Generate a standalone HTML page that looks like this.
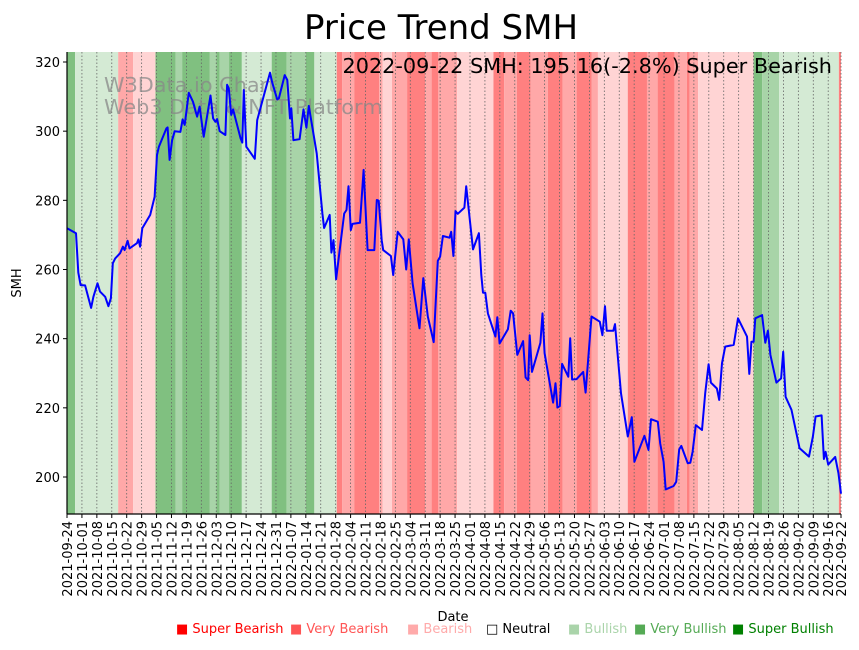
<!DOCTYPE html>
<html><head><meta charset="utf-8">
<style>
body{margin:0;background:#fff;width:859px;height:646px;overflow:hidden;font-family:"DejaVu Sans","Liberation Sans",sans-serif}
</style></head>
<body>
<svg id="chart" width="859" height="646" viewBox="0 0 859 646" xmlns="http://www.w3.org/2000/svg" font-family="DejaVu Sans, Liberation Sans, sans-serif">
<g id="bands"></g>
<g id="grid"></g>
<g id="wm">
<text x="104" y="92" font-size="20.8" fill="#888" fill-opacity="0.75">W3Data.io Chart</text>
<text x="104" y="114" font-size="20.8" fill="#888" fill-opacity="0.75">Web3 Data &amp; NFT Platform</text>
</g>
<path id="line" fill="none" stroke="#0000ff" stroke-width="2" stroke-linejoin="round"></path>
<g id="axes"></g>
<text x="441" y="39" font-size="34" text-anchor="middle" fill="#000">Price Trend SMH</text>
<text x="832" y="73" font-size="20.8" text-anchor="end" fill="#000">2022-09-22 SMH: 195.16(-2.8%) Super Bearish</text>
<text x="453" y="621" font-size="13" text-anchor="middle">Date</text>
<text transform="translate(21,283) rotate(-90)" font-size="13" text-anchor="middle">SMH</text>
<g id="legend"></g>
</svg>
<script>
const days=[0,4.2,5.3,6.4,8.5,11.3,12.4,14.3,15.5,17.9,19.4,20.6,21.5,22.6,24.9,26.2,27,28.4,29.3,32.8,33.5,34.3,35.3,39,41.1,42.2,43.1,46.6,47.2,48.1,49.3,50.5,53.2,54.2,55.2,57.1,59.1,61,62.2,64.1,67.3,68.5,69.6,70.4,71.6,74.3,75.1,75.9,77,77.9,79,81.4,82.2,82.9,84.1,88.1,89.2,95.2,96.3,98.6,99.4,102.1,103.3,104.6,105.2,106.2,109.1,110.9,112.3,113.4,117.1,119.8,120.6,123.2,124,125,126.2,130,131.1,132,133.1,133.9,137.4,139.1,141,144.1,145.3,146.2,147.6,148.3,151.9,153,155.1,157.7,159.1,160.3,162.1,165.3,167.1,169.2,172,173.9,175,176.3,179.4,180.2,181.2,182.2,183.3,186.4,187.2,190.4,193.2,194.3,195.1,196.2,197.4,200.9,201.8,202.9,206.8,208.1,209.2,211.2,213.9,215.1,216.3,217,218.1,222,223,224,228,229.1,230,231.1,232.2,235.1,236,236.9,239,242.1,243.2,246,249.9,251.1,252.3,253.1,256.2,257,259.8,263,264.9,266.1,270.8,272.7,273.9,277.1,278.2,279.8,280.8,284.5,285.7,287.1,288.1,291.1,292.3,293.4,294.9,297.8,299.3,300.9,302,304.8,305.9,307.2,308.7,312.7,314.7,318.9,320,321,322,322.8,326,327.5,328.7,329.9,332.7,334.9,335.9,337,339.8,343.6,348,349.8,351.1,353.9,355,355.8,357,360.3,361.8,363];
const prices=[271.9,270.5,259.1,255.5,255.4,248.9,252.1,256,253.6,252.1,249.4,251.7,261.8,263.2,264.7,266.6,265.6,268.3,266.1,267.6,268.7,266.6,271.9,275.8,281,293.1,295.5,300.8,301.1,291.7,297.4,300,299.8,303.4,301.8,311.1,308.5,304.2,307.1,298.4,310.3,303.7,302.7,303.5,300,298.9,313.4,312.4,304.7,306.3,303.7,297.9,296.7,311.9,295.5,292,303.2,316.9,314,309.2,309.5,316.2,314.8,303.7,306.6,297.4,297.7,306.3,301,307.3,293.6,276.2,272,275.8,264.9,268.5,257.2,276.2,277.2,284.1,271.4,273.2,273.5,288.8,265.6,265.6,280.1,279.9,268.5,265.6,263.9,258.4,270.9,268.7,260,268.7,256,243,257.5,246.4,239,262.5,263.7,269.7,269.2,270.9,263.9,276.9,276.1,277.9,284.1,265.8,270.5,258.4,253.3,253.3,247.3,240.6,246.2,238.6,242.7,248.1,247.3,235.3,239.3,228.8,228,241,230.4,238.8,247.3,235.8,221.5,227.1,220.1,220.5,232.7,229,240.1,228.2,228.3,230.4,224.4,246.4,244.9,241,249.4,242.3,242.3,244.2,224.2,211.7,217.3,204.4,211.9,207.8,216.7,216,209.7,204.4,196.4,197.4,198.6,208,209,204,204.1,207.3,215,213.6,224.2,232.6,227.3,225.6,222.3,232.9,237.7,238.2,245.9,240.6,229.8,239.1,239.1,245.9,246.8,238.8,242.3,235.3,227.3,228.5,236.2,223.2,219.4,208.3,205.9,211.7,217.5,217.8,205.2,207.3,203.6,205.8,201.2,195.2];
const bandStart=[0,3.8,24,31,41.5,51,54,67,70,71.5,76,82,96,103,112,116,126.5,129,134.7,146.4,148,152.4,159.5,168,171,174,183,200,205,211,217.5,225.5,232.5,239,246,249,263,272,277,285,290.7,292,296,322,326,334,362];
const bandEnd=[3.8,24,31,41.5,51,54,67,70,71.5,76,82,96,103,112,116,126.5,129,134.7,146.4,148,152.4,159.5,168,171,174,183,200,205,211,217.5,225.5,232.5,239,246,249,263,272,277,285,290.7,292,296,322,326,334,362,364];
const bandLevel=[3,1,-2,-1,3,2,3,2,3,2,3,1,3,2,3,1,-3,-2,-3,-2,-1,-2,-3,-2,-3,-2,-1,-3,-2,-3,-2,-3,-2,-3,-2,-1,-3,-2,-3,-2,-3,-2,-1,3,2,1,-3];
const yTicks=[200,220,240,260,280,300,320];
const legendLabels=["Super Bearish","Very Bearish","Bearish","Neutral","Bullish","Very Bullish","Super Bullish"];
const legendColors=["#ff0000","#ff5555","#ffaaaa","#000000","#aad4aa","#55aa55","#008000"];
const legendX=[176,290,407,486,568,634,732];

const NS="http://www.w3.org/2000/svg";
const L=67,R=841,T=52,B=514,D0=0,D1=363;
const xS=d=>L+(d-D0)/(D1-D0)*(R-L);
const yS=v=>477+(200-v)*(415/120);
const bandColor={"3":"#80c080","2":"#a8d4a8","1":"#d4ead4","-1":"#ffd4d4","-2":"#ffa8a8","-3":"#ff8080","0":"#ffffff"};
function mk(tag,attrs,parent){const e=document.createElementNS(NS,tag);for(const k in attrs)e.setAttribute(k,attrs[k]);parent.appendChild(e);return e;}
const bands=document.getElementById('bands');
for(let i=0;i<bandStart.length;i++){
  const x0=Math.max(L,xS(bandStart[i])),x1=Math.min(R,xS(bandEnd[i]));
  const r=mk('rect',{x:x0,y:T,width:Math.max(0,x1-x0),height:B-T,fill:bandColor[String(bandLevel[i])]},bands);
  
  
}
const grid=document.getElementById('grid'),axes=document.getElementById('axes');
const start=new Date(Date.UTC(2021,8,24));
const tickDays=[];
for(let d=0;d<=D1-6;d+=7)tickDays.push(d);
tickDays.push(D1);
tickDays.forEach(d=>{
  const x=xS(d);
  const g=mk('line',{x1:x,x2:x,y1:T,y2:B,stroke:"#666",'stroke-width':0.8,'stroke-dasharray':"1.5,2"},grid);
  
  
  mk('line',{x1:x,x2:x,y1:B,y2:B+4,stroke:"#000",'stroke-width':1},axes);
  const dt=new Date(start.getTime()+d*86400000);
  const s=dt.toISOString().slice(0,10);
  const t=mk('text',{transform:`translate(${x+5},${B+7}) rotate(-90)`,'font-size':13,'text-anchor':'end',fill:'#000'},axes);
  t.textContent=s;
  
  
});
yTicks.forEach(v=>{
  const y=yS(v);
  mk('line',{x1:L-4,x2:L,y1:y,y2:y,stroke:"#000",'stroke-width':1},axes);
  const t=mk('text',{x:L-7,y:y+5,'font-size':13,'text-anchor':'end',fill:'#000'},axes);
  t.textContent=v;
  
  
});
const ls=mk('line',{x1:L,x2:L,y1:T,y2:B,stroke:"#000",'stroke-width':1.2},axes);


const bs=mk('line',{x1:L,x2:R,y1:B,y2:B,stroke:"#000",'stroke-width':1.2},axes);


document.getElementById('line').setAttribute('d',days.map((d,i)=>(i?'L':'M')+xS(d).toFixed(1)+','+yS(prices[i]).toFixed(1)).join(''));
const lg=document.getElementById('legend');
legendLabels.forEach((lab,i)=>{
  const t=mk('text',{x:legendX[i],y:633,'font-size':13,fill:legendColors[i]},lg);
  t.textContent=(i===3?'\u25A1 ':'\u25A0 ')+lab;
  
  
});
</script>
</body></html>
